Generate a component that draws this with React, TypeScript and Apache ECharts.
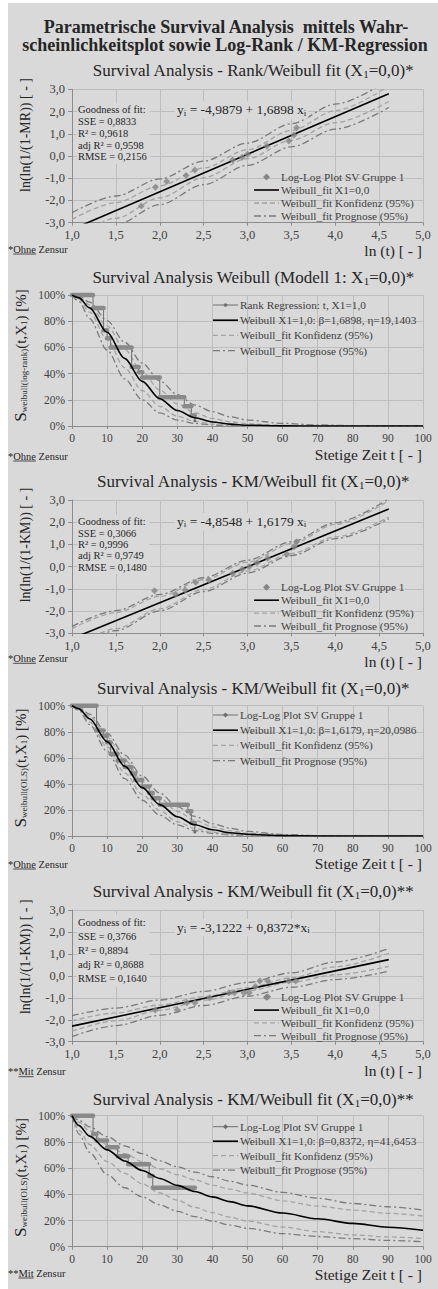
import React, { useEffect, useRef } from "react";
import * as echarts from "echarts";

// ---------------- texts ----------------
const MAIN_TITLE = [
  "Parametrische Survival Analysis  mittels Wahr-",
  "scheinlichkeitsplot sowie Log-Rank / KM-Regression",
];
const TITLES = [
  ["Survival Analysis - Rank/Weibull fit (X", "1", "=0,0)*"],
  ["Survival Analysis Weibull (Modell 1: X", "1", "=0,0)*"],
  ["Survival Analysis - KM/Weibull fit (X", "1", "=0,0)*"],
  ["Survival Analysis - KM/Weibull fit (X", "1", "=0,0)*"],
  ["Survival Analysis - KM/Weibull fit (X", "1", "=0,0)**"],
  ["Survival Analysis - KM/Weibull fit (X", "1", "=0,0)**"],
];
const LOG_Y_NAMES = ["ln(ln(1/(1-MR)) [ - ]", "ln(ln(1/(1-KM)) [ - ]", "ln(ln(1/(1-KM)) [ - ]"];
const SURV_Y_SUBS = ["weibull(log-rank)", "weibull(OLS)", "weibull(OLS)"];
const LOG_X_NAME = "ln (t) [ - ]";
const SURV_X_NAME = "Stetige Zeit t [ - ]";
const FOOTNOTES = [
  ["*", "Ohne", " Zensur"],
  ["*", "Ohne", " Zensur"],
  ["*", "Ohne", " Zensur"],
  ["*", "Ohne", " Zensur"],
  ["**", "Mit", " Zensur"],
  ["**", "Mit", " Zensur"],
];
const LEG_LOG = ["Log-Log Plot SV Gruppe 1", "Weibull_fit X1=0,0", "Weibull_fit Konfidenz (95%)", "Weibull_fit Prognose (95%)"];
const LEG_P2 = ["Rank Regression: t, X1=1,0", "Weibull X1=1,0: β=1,6898, η=19,1403", "Weibull_fit Konfidenz (95%)", "Weibull_fit Prognose (95%)"];
const LEG_P4 = ["Log-Log Plot SV Gruppe 1", "Weibull X1=1,0: β=1,6179, η=20,0986", "Weibull_fit Konfidenz (95%)", "Weibull_fit Prognose (95%)"];
const LEG_P6 = ["Log-Log Plot SV Gruppe 1", "Weibull X1=1,0: β=0,8372, η=41,6453", "Weibull_fit Konfidenz (95%)", "Weibull_fit Prognose (95%)"];

const STATS_P1 = ["Goodness of fit:", "SSE = 0,8833", "R² = 0,9618", "adj R² = 0,9598", "RMSE = 0,2156"];
const STATS_P3 = ["Goodness of fit:", "SSE = 0,3066", "R² = 0,9996", "adj R² = 0,9749", "RMSE = 0,1480"];
const STATS_P5 = ["Goodness of fit:", "SSE = 0,3766", "R² = 0,8894", "adj R² = 0,8688", "RMSE = 0,1640"];
const EQ_P1 = ["y", "i", " = -4,9879 + 1,6898 x", "i"];
const EQ_P3 = ["y", "i", " = -4,8548 + 1,6179 x", "i"];
const EQ_P5 = ["y", "i", " = -3,1222 + 0,8372*x", "i"];

// ---------------- log-log panels ----------------
const BAND_X = [1.0, 1.5, 2.0, 2.5, 3.0, 3.5, 4.0, 4.61];

const P1_PT_X = [1.79, 1.95, 2.08, 2.30, 2.40, 2.83, 2.94, 3.00, 3.22, 3.47, 3.53, 3.56];
const P1_PT_Y = [-2.25, -1.40, -1.15, -0.88, -0.63, -0.18, -0.06, 0.08, 0.45, 0.67, 0.94, 1.27];
const P1_FIT_X = [1.0, 4.61];
const P1_FIT_Y = [-3.30, 2.80];
const P1_CONF_UP = [-2.85, -2.10, -1.34, -0.54, 0.28, 1.15, 2.04, 3.15];
const P1_CONF_LO = [-3.75, -2.80, -1.88, -0.98, -0.12, 0.71, 1.50, 2.45];
const P1_PROG_UP = [-2.55, -1.80, -1.03, -0.23, 0.58, 1.45, 2.33, 3.42];
const P1_PROG_LO = [-4.05, -3.10, -2.19, -1.29, -0.42, 0.41, 1.21, 2.18];

const P3_PT_X = [1.94, 2.18, 2.29, 2.41, 2.56, 2.83, 2.94, 3.02, 3.11, 3.23, 3.45, 3.53, 3.56];
const P3_PT_Y = [-1.09, -1.24, -1.05, -0.70, -0.60, -0.30, -0.12, 0.00, 0.18, 0.38, 0.56, 0.90, 1.12];
const P3_FIT_X = [1.0, 4.61];
const P3_FIT_Y = [-3.24, 2.60];
const P3_CONF_UP = [-2.79, -2.07, -1.34, -0.59, 0.20, 1.03, 1.90, 2.97];
const P3_CONF_LO = [-3.69, -2.79, -1.90, -1.03, -0.20, 0.59, 1.34, 2.23];
const P3_PROG_UP = [-2.69, -1.98, -1.25, -0.50, 0.29, 1.12, 1.98, 3.05];
const P3_PROG_LO = [-3.79, -2.88, -1.99, -1.12, -0.29, 0.50, 1.26, 2.15];

const P5_PT_X = [1.95, 2.20, 2.31, 2.40, 2.57, 2.79, 2.85, 2.96, 3.02, 3.09, 3.14, 3.23, 3.23, 3.47, 3.55];
const P5_PT_Y = [-1.56, -1.56, -1.22, -1.22, -1.00, -0.77, -0.77, -0.77, -0.77, -0.49, -0.23, -0.23, -0.95, -0.23, -0.23];
const P5_FIT_X = [1.0, 4.61];
const P5_FIT_Y = [-2.29, 0.74];
const P5_CONF_UP = [-2.05, -1.69, -1.33, -0.95, -0.54, -0.09, 0.41, 1.03];
const P5_CONF_LO = [-2.52, -2.05, -1.57, -1.11, -0.68, -0.29, 0.05, 0.43];
const P5_PROG_UP = [-1.82, -1.47, -1.10, -0.71, -0.30, 0.14, 0.63, 1.25];
const P5_PROG_LO = [-2.76, -2.27, -1.80, -1.35, -0.92, -0.52, -0.17, 0.21];

// ---------------- survival panels ----------------
const SURV_T = [0, 2, 5, 10, 15, 20, 25, 30, 35, 40, 45, 50, 60, 70, 80, 90, 100];

const P2_STEP_T = [0, 6, 9, 10, 11, 17, 19, 20, 25, 32, 34, 35];
const P2_STEP_S = [100, 90, 73, 67, 60, 45, 41, 37, 22, 15, 8, 4];
const P2_FIT = [100, 97.8, 90.2, 71.6, 51.6, 34.1, 20.8, 11.8, 6.3, 3.1, 1.4, 0.6, 0.1, 0, 0, 0, 0];
const P2_CONF_UP = [100, 98.5, 92.5, 76.5, 58.5, 41.5, 27.5, 17, 10, 5.8, 3.2, 1.7, 0.5, 0.1, 0, 0, 0];
const P2_CONF_LO = [100, 96.8, 87, 66, 44.5, 27, 15, 7.5, 3.5, 1.5, 0.6, 0.2, 0, 0, 0, 0, 0];
const P2_PROG_UP = [100, 99, 94.5, 80.5, 64, 48, 34.5, 24, 16, 11, 7, 4.5, 2, 0.8, 0.3, 0.1, 0];
const P2_PROG_LO = [100, 95, 82, 58, 36, 20, 10, 4.5, 2, 0.8, 0.3, 0.1, 0, 0, 0, 0, 0];

const P4_STEP_T = [0, 7, 9, 10, 11, 13, 15, 17, 18, 20, 22, 23, 25, 33, 34, 35];
const P4_STEP_S = [100, 81, 77, 72, 63, 58, 53, 48, 43, 38, 33, 29, 24, 19, 10, 3];
const P4_FIT = [100, 97.6, 90.0, 72.4, 53.6, 37.1, 24.1, 14.8, 8.6, 4.8, 2.5, 1.3, 0.3, 0.05, 0, 0, 0];
const P4_CONF_UP = [100, 98.2, 92, 76, 58.5, 42, 29, 19, 12, 7, 4, 2.2, 0.6, 0.1, 0, 0, 0];
const P4_CONF_LO = [100, 96.9, 87.5, 68.5, 48.5, 32, 19.5, 11, 5.8, 2.9, 1.4, 0.6, 0.1, 0, 0, 0, 0];
const P4_PROG_UP = [100, 98.6, 93.5, 79, 62, 46, 33, 22.5, 15, 9.5, 6, 3.5, 1.1, 0.3, 0.1, 0, 0];
const P4_PROG_LO = [100, 96.3, 85.5, 65, 44, 27.5, 16, 8.5, 4.2, 2, 0.9, 0.4, 0, 0, 0, 0, 0];

const P6_STEP_T = [0, 6, 7, 10, 13, 16, 22, 23, 35];
const P6_STEP_S = [100, 86, 81, 76, 69, 63, 54, 45, 45];
const P6_FIT = [100, 92.4, 84.4, 73.9, 65.4, 58.2, 52.1, 46.8, 42.1, 38.0, 34.4, 31.2, 25.7, 21.3, 17.8, 14.9, 12.5];
const P6_CONF_UP = [100, 95, 88.5, 78, 71, 65, 59.5, 55, 51, 47, 44, 41, 35, 31, 28, 25.5, 23.4];
const P6_CONF_LO = [100, 89, 78, 65, 56, 48, 41, 35.5, 30, 26, 22.5, 19.5, 15, 11.5, 9, 7.5, 6.2];
const P6_PROG_UP = [100, 96.5, 91.5, 84, 77, 71, 65.5, 61, 57, 53.4, 50, 47, 41.5, 37, 33, 30.5, 28];
const P6_PROG_LO = [100, 86, 72, 55, 45, 38, 32, 27, 23, 19.5, 16.5, 14, 10, 7.8, 6.2, 4.8, 3.8];

// ---------------- styles / layout ----------------
const OX = 8;
const OY = 3;
const W = 430;
const H = 1286;
const F = "'Liberation Serif', 'Times New Roman', serif";
const BG = "#d9d9d9";
const C_TEXT = "#262626";
const C_TICK = "#404040";
const C_GRID = "#bdbdbd";
const C_AXIS = "#8c8c8c";
const C_PT = "#858585";
const C_STEP = "#8a8a8a";
const C_CONF = "#a3a3a3";
const C_PROG = "#7a7a7a";
const DASH = [5, 3];
const DASHDOT = [7, 3, 2, 3];

const LAYOUT = [
  { top: 89.3, bottom: 222.7, titleY: 70, xNameY: 250, footY: 249, yNameY: 135, legY: 177, legGap: 13, legX: 254, gofY: 110, gofGap: 11.7, eqY: 110 },
  { top: 295, bottom: 426, titleY: 277.7, xNameY: 454, footY: 456, yNameY: 355.5, legY: 305, legGap: 15.2, legX: 213 },
  { top: 500, bottom: 633.3, titleY: 481.7, xNameY: 661.7, footY: 658.3, yNameY: 545, legY: 587.3, legGap: 12.9, legX: 254, gofY: 521.7, gofGap: 11.4, eqY: 521.7 },
  { top: 705.7, bottom: 836, titleY: 688, xNameY: 863, footY: 864, yNameY: 768, legY: 715, legGap: 15.2, legX: 213 },
  { top: 910, bottom: 1041.7, titleY: 891, xNameY: 1070, footY: 1071.7, yNameY: 956.7, legY: 997.3, legGap: 12.8, legX: 254, gofY: 922.7, gofGap: 14, eqY: 927.7 },
  { top: 1115.7, bottom: 1246.7, titleY: 1099, xNameY: 1274, footY: 1273, yNameY: 1177.5, legY: 1126.7, legGap: 14.5, legX: 213 },
];

const zip = (xs: number[], ys: number[]) => xs.map((x, k) => [x, ys[k]]);
const fmt1 = (v: number) => v.toFixed(1).replace(".", ",");

function measure(text: string, size: number) {
  const c = document.createElement("canvas").getContext("2d")!;
  c.font = `${size}px ${F}`;
  return c.measureText(text).width;
}

function richStyles(size: number, subSize: number, color: string) {
  return {
    n: { fontSize: size, fontFamily: F, fill: color, lineHeight: size + 3 },
    s: { fontSize: subSize, fontFamily: F, fill: color, lineHeight: subSize, padding: [Math.round(size * 0.42), 0, 0, 0] },
    b: { fontSize: size + 2, fontFamily: F, fill: color, lineHeight: size + 3 },
  };
}
const richText = (parts: string[]) => parts.map((s, k) => `{${k % 2 ? "s" : "n"}|${s}}`).join("");

function textEl(x: number, y: number, text: string, size: number, o: any = {}) {
  const va = o.valign || "middle";
  return {
    type: "text",
    x: x - OX,
    y: y - OY,
    rotation: o.rotation || 0,
    z: 20,
    silent: true,
    style: {
      text,
      x: 0,
      y: 0,
      fontSize: size,
      fontFamily: F,
      fontWeight: o.bold ? "bold" : "normal",
      fill: o.color || C_TEXT,
      align: o.align || "left",
      textAlign: o.align || "left",
      verticalAlign: va,
      textVerticalAlign: va,
      rich: o.rich,
      lineHeight: o.lineHeight,
      backgroundColor: o.bg,
      padding: o.padding,
    },
  };
}

function lineEl(x1: number, y1: number, x2: number, y2: number, stroke: string, width: number, dash?: number[]) {
  return {
    type: "line",
    z: 20,
    silent: true,
    shape: { x1: x1 - OX, y1: y1 - OY, x2: x2 - OX, y2: y2 - OY },
    style: { stroke, lineWidth: width, lineDash: dash || null },
  };
}

function buildOption() {
  const grid: any[] = [];
  const xAxis: any[] = [];
  const yAxis: any[] = [];
  const series: any[] = [];
  const els: any[] = [];

  els.push(textEl(226, 26.9, MAIN_TITLE[0], 18, { bold: true, align: "center" }));
  els.push(textEl(225, 45.3, MAIN_TITLE[1], 18, { bold: true, align: "center" }));

  const logData = [
    { pts: zip(P1_PT_X, P1_PT_Y), fit: zip(P1_FIT_X, P1_FIT_Y), cu: P1_CONF_UP, cl: P1_CONF_LO, pu: P1_PROG_UP, pl: P1_PROG_LO, stats: STATS_P1, eq: EQ_P1 },
    { pts: zip(P3_PT_X, P3_PT_Y), fit: zip(P3_FIT_X, P3_FIT_Y), cu: P3_CONF_UP, cl: P3_CONF_LO, pu: P3_PROG_UP, pl: P3_PROG_LO, stats: STATS_P3, eq: EQ_P3 },
    { pts: zip(P5_PT_X, P5_PT_Y), fit: zip(P5_FIT_X, P5_FIT_Y), cu: P5_CONF_UP, cl: P5_CONF_LO, pu: P5_PROG_UP, pl: P5_PROG_LO, stats: STATS_P5, eq: EQ_P5 },
  ];
  const survData = [
    { st: P2_STEP_T, ss: P2_STEP_S, fit: P2_FIT, cu: P2_CONF_UP, cl: P2_CONF_LO, pu: P2_PROG_UP, pl: P2_PROG_LO, leg: LEG_P2, marker: "circle" },
    { st: P4_STEP_T, ss: P4_STEP_S, fit: P4_FIT, cu: P4_CONF_UP, cl: P4_CONF_LO, pu: P4_PROG_UP, pl: P4_PROG_LO, leg: LEG_P4, marker: "diamond" },
    { st: P6_STEP_T, ss: P6_STEP_S, fit: P6_FIT, cu: P6_CONF_UP, cl: P6_CONF_LO, pu: P6_PROG_UP, pl: P6_PROG_LO, leg: LEG_P6, marker: "diamond" },
  ];

  LAYOUT.forEach((L, i) => {
    const isLog = i % 2 === 0;
    const k = Math.floor(i / 2);
    grid.push({ left: 72 - OX, width: 351, top: L.top - OY, height: L.bottom - L.top });
    xAxis.push({
      type: "value",
      gridIndex: i,
      min: isLog ? 1 : 0,
      max: isLog ? 5 : 100,
      interval: isLog ? 0.5 : 10,
      axisLine: { show: true, onZero: false, lineStyle: { color: C_AXIS, width: 1 } },
      axisTick: { show: true, length: 3, lineStyle: { color: C_AXIS } },
      axisLabel: { color: C_TICK, fontFamily: F, fontSize: isLog ? 12.5 : 11.5, margin: 6, formatter: isLog ? fmt1 : (v: number) => String(v) },
      splitLine: { show: true, lineStyle: { color: C_GRID, width: 1 } },
    });
    yAxis.push({
      type: "value",
      gridIndex: i,
      min: isLog ? -3 : 0,
      max: isLog ? 3 : 100,
      interval: isLog ? 1 : 20,
      axisLine: { show: true, onZero: false, lineStyle: { color: C_AXIS, width: 1 } },
      axisTick: { show: true, length: 4, lineStyle: { color: C_AXIS } },
      axisLabel: { color: C_TICK, fontFamily: F, fontSize: isLog ? 12.5 : 11.5, margin: 7, formatter: isLog ? fmt1 : (v: number) => v + "%" },
      splitLine: { show: true, lineStyle: { color: C_GRID, width: 1 } },
    });

    const base = { xAxisIndex: i, yAxisIndex: i, silent: true, animation: false };
    const bandLine = (data: number[][], color: string, dash: number[]) => ({
      ...base,
      type: "line",
      data,
      symbol: "none",
      smooth: 0.3,
      smoothMonotone: "x",
      lineStyle: { color, width: 1.3, type: dash },
      z: 3,
    });

    // title
    els.push(textEl(253, L.titleY, richText(TITLES[i]), 17, { align: "center", rich: richStyles(17, 11, C_TEXT) }));
    // x name
    els.push(textEl(422, L.xNameY, isLog ? LOG_X_NAME : SURV_X_NAME, 15.5, { align: "right" }));
    // footnote
    const fn = FOOTNOTES[i];
    const fs = 10.5;
    els.push(textEl(8, L.footY, fn.join(""), fs, { color: C_TEXT }));
    const u0 = 8 + measure(fn[0], fs);
    const u1 = 8 + measure(fn[0] + fn[1], fs);
    els.push(lineEl(u0, L.footY + 5, u1, L.footY + 5, C_TEXT, 0.8));

    if (isLog) {
      const d = logData[k];
      series.push(bandLine(zip(BAND_X, d.pu), C_PROG, DASHDOT));
      series.push(bandLine(zip(BAND_X, d.pl), C_PROG, DASHDOT));
      series.push(bandLine(zip(BAND_X, d.cu), C_CONF, DASH));
      series.push(bandLine(zip(BAND_X, d.cl), C_CONF, DASH));
      series.push({ ...base, type: "line", data: d.fit, symbol: "none", lineStyle: { color: "#000", width: 1.6 }, z: 4 });
      series.push({ ...base, type: "scatter", data: d.pts, symbol: "diamond", symbolSize: 7, itemStyle: { color: C_PT }, z: 5 });

      // y name
      els.push(textEl(25, L.yNameY, LOG_Y_NAMES[k], 14, { align: "center", rotation: Math.PI / 2 }));
      // goodness of fit (first line centred on gofY)
      els.push(textEl(77, L.gofY! - L.gofGap! / 2 - 1, d.stats.join("\n"), 10.5, {
        valign: "top", lineHeight: L.gofGap, bg: BG, padding: [1, 3, 1, 1],
      }));
      // equation
      els.push(textEl(175, L.eqY!, richText(d.eq), 13.5, { rich: richStyles(13.5, 9, C_TEXT), bg: BG, padding: [0, 2, 1, 2] }));

      // legend
      const lx = L.legX;
      LEG_LOG.forEach((lab, r) => {
        const y = L.legY + r * L.legGap;
        if (r === 0) {
          const cx = lx + 12.5;
          els.push({ type: "polygon", z: 20, silent: true, shape: { points: [[cx - OX, y - 3.5 - OY], [cx + 3.5 - OX, y - OY], [cx - OX, y + 3.5 - OY], [cx - 3.5 - OX, y - OY]] }, style: { fill: C_PT } });
        } else if (r === 1) els.push(lineEl(lx, y, lx + 25, y, "#000", 1.6));
        else if (r === 2) els.push(lineEl(lx, y, lx + 25, y, C_CONF, 1.3, DASH));
        else els.push(lineEl(lx, y, lx + 25, y, C_PROG, 1.3, DASHDOT));
        els.push(textEl(lx + 27, y, lab, 11.3, { color: C_TICK }));
      });
    } else {
      const d = survData[k];
      series.push(bandLine(zip(SURV_T, d.pu), C_PROG, DASHDOT));
      series.push(bandLine(zip(SURV_T, d.pl), C_PROG, DASHDOT));
      series.push(bandLine(zip(SURV_T, d.cu), C_CONF, DASH));
      series.push(bandLine(zip(SURV_T, d.cl), C_CONF, DASH));
      series.push({
        ...base, type: "line", data: zip(SURV_T, d.fit), symbol: "none", smooth: 0.3, smoothMonotone: "x",
        lineStyle: { color: "#000", width: 1.6 }, z: 6,
      });
      series.push({
        ...base, type: "line", step: "end", data: zip(d.st, d.ss), symbol: "circle", symbolSize: 3,
        showSymbol: true, lineStyle: { color: "#6e6e6e", width: 1 }, itemStyle: { color: "#6e6e6e" }, z: 4,
      });
      const segs = d.st.slice(0, -1).map((t, j) => [t, d.st[j + 1], d.ss[j]]);
      series.push({
        ...base,
        type: "custom",
        data: segs,
        encode: { x: [0, 1], y: 2 },
        z: 5,
        renderItem: (_p: any, api: any) => {
          const a = api.coord([api.value(0), api.value(2)]);
          const b = api.coord([api.value(1), api.value(2)]);
          return { type: "line", shape: { x1: a[0], y1: a[1], x2: b[0], y2: b[1] }, style: { stroke: C_STEP, lineWidth: 4.5, lineCap: "round" } };
        },
      });

      // y name
      els.push(textEl(20.7, L.yNameY, `{b|S}{s|${SURV_Y_SUBS[k]}}{n|(t,X}{s|1}{n|) [%]}`, 15, {
        align: "center", rotation: Math.PI / 2, rich: richStyles(15, 9, C_TEXT),
      }));

      // legend
      const lx = L.legX;
      d.leg.forEach((lab, r) => {
        const y = L.legY + r * L.legGap;
        if (r === 0) {
          els.push(lineEl(lx, y, lx + 25, y, "#6e6e6e", 1));
          const cx = lx + 12.5;
          if (d.marker === "circle") els.push({ type: "circle", z: 20, silent: true, shape: { cx: cx - OX, cy: y - OY, r: 1.8 }, style: { fill: "#6e6e6e" } });
          else els.push({ type: "polygon", z: 20, silent: true, shape: { points: [[cx - OX, y - 2.5 - OY], [cx + 2.5 - OX, y - OY], [cx - OX, y + 2.5 - OY], [cx - 2.5 - OX, y - OY]] }, style: { fill: "#6e6e6e" } });
        } else if (r === 1) els.push(lineEl(lx, y, lx + 25, y, "#000", 1.6));
        else if (r === 2) els.push(lineEl(lx, y, lx + 25, y, C_CONF, 1.3, DASH));
        else els.push(lineEl(lx, y, lx + 25, y, C_PROG, 1.3, DASHDOT));
        els.push(textEl(lx + 27, y, lab, 11.3, { color: C_TICK }));
      });
    }
  });

  return {
    animation: false,
    backgroundColor: BG,
    grid,
    xAxis,
    yAxis,
    series,
    graphic: { elements: els },
  };
}

export default function App() {
  const ref = useRef<HTMLDivElement>(null);
  useEffect(() => {
    const chart = echarts.init(ref.current!, undefined, { renderer: "svg" });
    chart.setOption(buildOption() as any);
    return () => chart.dispose();
  }, []);
  return (
    <div
      ref={ref}
      style={{ position: "absolute", left: OX, top: OY, width: W, height: H, background: BG }}
    />
  );
}
